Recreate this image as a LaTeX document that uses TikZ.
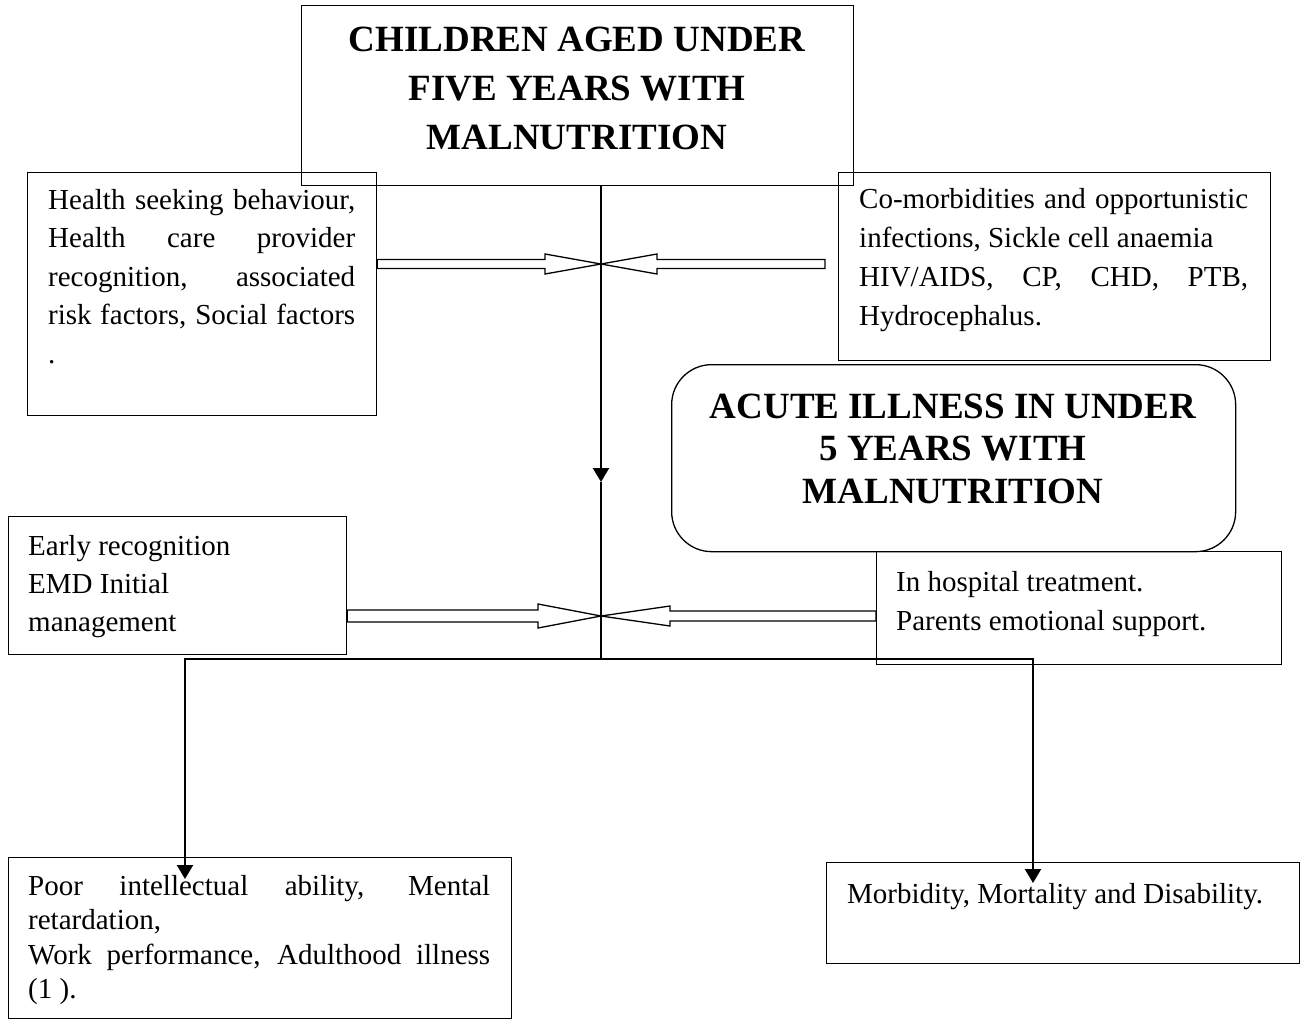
\documentclass[tikz,border=0pt]{standalone}
\usepackage{fontspec}
\setmainfont{Liberation Serif}
\usetikzlibrary{arrows.meta,calc}
\newcommand\fl{\spaceskip=0pt\xspaceskip=0pt\rule{0pt}{30pt}}
\newcommand\tl{\spaceskip=.25em\relax\xspaceskip=.25em\relax\rule{0pt}{40pt}}
\newcommand\jl[1]{\makebox[\hsize][s]{#1}}
\newcommand\hollowarr[5]{%
  \draw[hol] ($(#1)+(0,-#4)$) -- ($(#2)+(#3,-#4)$) -- ($(#2)+(#3,-#5)$) -- (#2)
    -- ($(#2)+(#3,#5)$) -- ($(#2)+(#3,#4)$) -- ($(#1)+(0,#4)$) -- cycle;}
\begin{document}
\begin{tikzpicture}[x=1pt,y=-1pt,
  box/.style={draw, line width=1.3pt, anchor=north west, inner sep=0pt},
  body/.style={anchor=north west, inner sep=0pt, align=left},
  ttl/.style={anchor=north, inner sep=0pt, align=center, text width=540pt},
  conn/.style={line width=2.2pt},
  hol/.style={line width=1.3pt, line join=miter},
  tip/.style={-{Triangle[length=14pt,width=16pt]}}
]
\useasboundingbox (0,0) rectangle (1300,1020);

% boxes
\node[box, minimum width=552pt, minimum height=180pt] (top) at (301,5) {};
\node[box, minimum width=349pt, minimum height=243pt] (lb1) at (27,172) {};
\node[box, minimum width=432pt, minimum height=188pt] (rb1) at (838,172) {};
\node[box, rounded corners=40pt, minimum width=564pt, minimum height=187pt] (acute) at (671,364) {};
\node[box, minimum width=338pt, minimum height=138pt] (lb2) at (8,516) {};
\node[box, minimum width=405pt, minimum height=113pt] (rb2) at (876,551) {};
\node[box, minimum width=503pt, minimum height=161pt] (bl) at (8,857) {};
\node[box, minimum width=473pt, minimum height=101pt] (br) at (826,862) {};

% titles
\node[ttl, font=\bfseries\fontsize{37pt}{49pt}\selectfont] (topT) at (577,11)
  {\tl CHILDREN AGED UNDER\\ FIVE YEARS WITH\\ MALNUTRITION};
\node[ttl, font=\bfseries\fontsize{37pt}{42.5pt}\selectfont] (acuteT) at (953,378)
  {\tl ACUTE ILLNESS IN UNDER\\ 5 YEARS WITH\\ MALNUTRITION};

% body texts
\node[body, text width=307pt, font=\fontsize{29pt}{38.5pt}\selectfont] (lb1T) at (48,179)
  {\fl\jl{Health seeking behaviour,}\\ \jl{Health care provider}\\ \jl{recognition, associated}\\ \jl{risk factors, Social factors}\\ .};
\node[body, text width=389pt, font=\fontsize{29pt}{39pt}\selectfont] (rb1T) at (859,178)
  {\fl\jl{Co-morbidities and opportunistic}\\ infections, Sickle cell anaemia\\ \jl{HIV/AIDS, CP, CHD, PTB,}\\ Hydrocephalus.};
\node[body, text width=300pt, font=\fontsize{29pt}{38pt}\selectfont] (lb2T) at (28,525)
  {\fl Early recognition\\ EMD Initial\\ management};
\node[body, text width=380pt, font=\fontsize{29pt}{39pt}\selectfont] (rb2T) at (896,561)
  {\fl In hospital treatment.\\ Parents emotional support.};
\node[body, text width=462pt, font=\fontsize{29pt}{34.5pt}\selectfont] (blT) at (28,865)
  {\fl\jl{Poor intellectual ability, Mental}\\ retardation,\\ \jl{Work performance, Adulthood illness}\\ (1 ).};
\node[body, text width=440pt, font=\fontsize{29pt}{38pt}\selectfont] (brT) at (847,873)
  {\fl Morbidity, Mortality and Disability.};

% connector coordinates
\coordinate (hub1) at (601,264);
\coordinate (hub2) at (601,616);
\coordinate (mid) at (601,482);
\coordinate (jn) at (601,659);
\coordinate (jl) at (185,659);
\coordinate (jr) at (1033,659);
\coordinate (s2) at (825,264);
\coordinate (s1) at (lb1.east |- hub1);
\coordinate (s3) at (lb2.east |- hub2);
\coordinate (s4) at (rb2.west |- hub2);

% main vertical line
\draw[conn, tip] (hub1 |- top.south) -- (mid);
\draw[conn] (mid) -- (jn);
\draw[conn, tip] (jn) -- (jl) -- ($(jl |- bl.north)+(0,22)$);
\draw[conn, tip] (jn) -- (jr) -- ($(jr |- br.north)+(0,21)$);

% hollow arrows
\hollowarr{s1}{hub1}{-56}{4.5}{10}
\hollowarr{s2}{hub1}{56}{4.5}{10}
\hollowarr{s3}{hub2}{-63}{6}{12}
\hollowarr{s4}{hub2}{69}{5}{10}
\end{tikzpicture}
\end{document}
